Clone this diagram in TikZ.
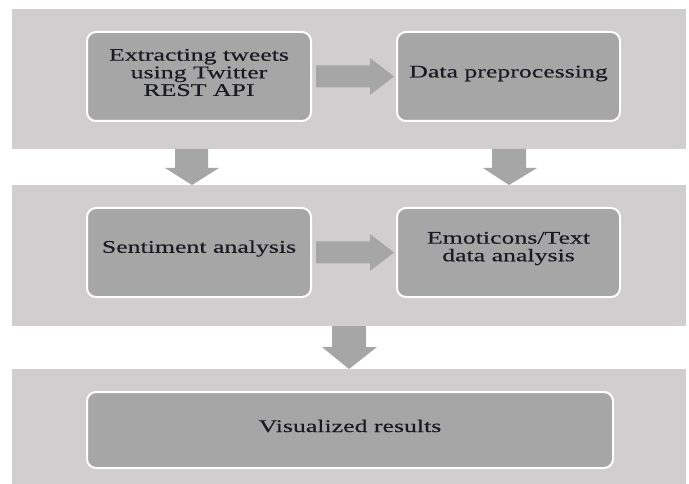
\documentclass[tikz,border=0pt]{standalone}
\usepackage{fontspec}
\setmainfont{Liberation Serif}[FakeStretch=1.45,FakeBold=0.4]
\usetikzlibrary{calc}
\definecolor{bandgray}{HTML}{D0CECE}
\definecolor{boxgray}{HTML}{A6A6A6}
\definecolor{arrgray}{HTML}{A6A6A6}
\definecolor{txtcol}{HTML}{1A1A22}
\tikzset{
  band/.style={fill=bandgray, draw=none, inner sep=0pt, anchor=north west},
  stepbox/.style={fill=boxgray, draw=white, line width=2pt, rounded corners=9pt, inner sep=0pt},
  txt/.style={text=txtcol, align=center, inner sep=0pt, font=\fontsize{17.8}{17.6}\selectfont},
  blockarrow/.style={fill=arrgray, draw=none}
}
\begin{document}
\begin{tikzpicture}[x=1pt,y=-1pt]
\fill[white] (0,0) rectangle (689,484);
\useasboundingbox (0,0) rectangle (689,484);
% bands
\node[band, minimum width=674pt, minimum height=140pt] (band1) at (12,9) {};
\node[band, minimum width=674pt, minimum height=141pt] (band2) at (12,185) {};
\node[band, minimum width=674pt, minimum height=115pt] (band3) at (12,369) {};
% boxes
\node[stepbox, minimum width=224pt, minimum height=89pt] (b1) at (199,76.5) {};
\node[stepbox, minimum width=223pt, minimum height=89pt] (b2) at (508.5,76.5) {};
\node[stepbox, minimum width=224pt, minimum height=89pt] (b3) at (199,252.5) {};
\node[stepbox, minimum width=223pt, minimum height=89pt] (b4) at (508.5,252.5) {};
\node[stepbox, minimum width=526pt, minimum height=76pt] (b5) at (350,430) {};
% texts
\node[txt] (t1) at ($(b1.center)+(0,-4)$) {Extracting tweets\\using Twitter\\REST API};
\node[txt] (t2) at ($(b2.center)+(0,-3)$) {Data preprocessing};
\node[txt] (t3) at ($(b3.center)+(0,-4)$) {Sentiment analysis};
\node[txt] (t4) at ($(b4.center)+(0,-4)$) {Emoticons/Text\\data analysis};
\node[txt] (t5) at ($(b5.center)+(0,-4)$) {Visualized results};
% right arrows
\fill[blockarrow] ($(b1.east)+(4,-11)$) -- ($(b1.east)+(58,-11)$) -- ($(b1.east)+(58,-18.5)$)
  -- ($(b2.west)+(-2,0)$) -- ($(b1.east)+(58,18.5)$) -- ($(b1.east)+(58,11)$) -- ($(b1.east)+(4,11)$) -- cycle;
\fill[blockarrow] ($(b3.east)+(4,-11)$) -- ($(b3.east)+(58,-11)$) -- ($(b3.east)+(58,-18.5)$)
  -- ($(b4.west)+(-2,0)$) -- ($(b3.east)+(58,18.5)$) -- ($(b3.east)+(58,11)$) -- ($(b3.east)+(4,11)$) -- cycle;
% down arrows
\coordinate (d1) at (192,149);
\coordinate (d2) at (509,149);
\coordinate (d3) at (349,326);
\fill[blockarrow] ($(d1)+(-17,0)$) -- ($(d1)+(16,0)$) -- ($(d1)+(16,19)$) -- ($(d1)+(27,19)$)
  -- (d1 |- band2.north) -- ($(d1)+(-27,19)$) -- ($(d1)+(-17,19)$) -- cycle;
\fill[blockarrow] ($(d2)+(-17,0)$) -- ($(d2)+(17,0)$) -- ($(d2)+(17,19)$) -- ($(d2)+(28,19)$)
  -- (d2 |- band2.north) -- ($(d2)+(-26,19)$) -- ($(d2)+(-17,19)$) -- cycle;
\fill[blockarrow] ($(d3)+(-17,0)$) -- ($(d3)+(17,0)$) -- ($(d3)+(17,21)$) -- ($(d3)+(28,21)$)
  -- (d3 |- band3.north) -- ($(d3)+(-27,21)$) -- ($(d3)+(-17,21)$) -- cycle;
\end{tikzpicture}
\end{document}
